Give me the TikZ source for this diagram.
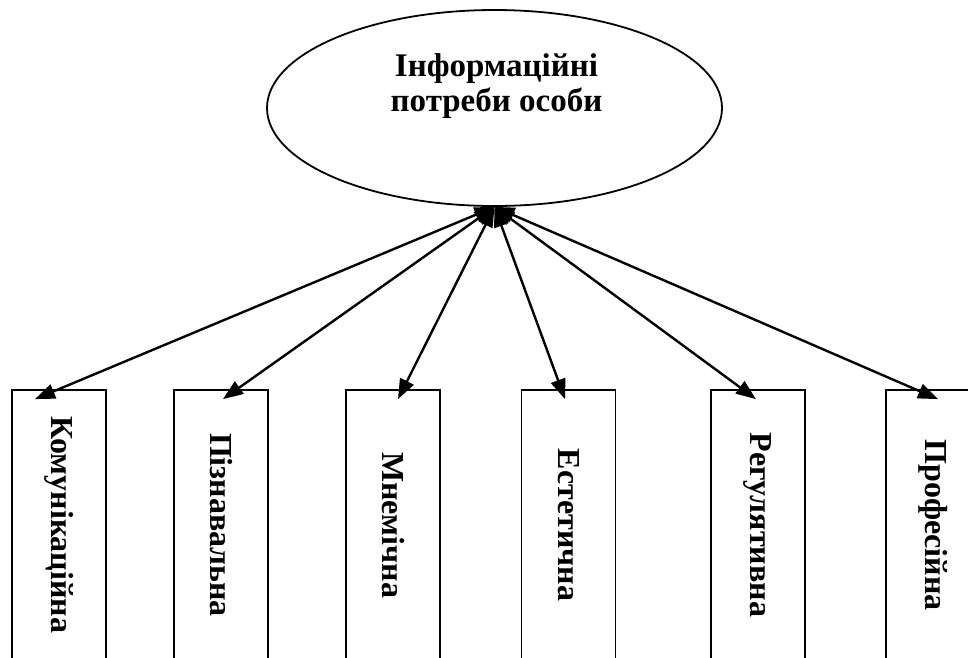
\documentclass[tikz,border=0pt]{standalone}
\usepackage{fontspec}
\setmainfont{Liberation Serif}
\usepackage{tikz}
\usetikzlibrary{shapes}
\usetikzlibrary{arrows.meta,arrows}
\usetikzlibrary{fit,positioning}
\tikzset{>={Triangle[length=20pt,width=15pt]}}
\tikzset{
  bigfont/.style={font=\bfseries\fontsize{33}{35}\selectfont},
  needbox/.style={draw,line width=1.8pt,minimum width=94pt,minimum height=270pt,inner sep=0pt,font=\bfseries\fontsize{32}{36}\selectfont},
  needlink/.style={line width=2.4pt,<->},
}

\begin{document}
\begin{tikzpicture}[x=1pt,y=-1pt]
\useasboundingbox (0,0) rectangle (968,657);

% Ellipse
\node[ellipse,draw,line width=1.8pt,minimum width=455pt,minimum height=196pt,inner sep=0pt] (needs) at (494.5,108) {};
\node[bigfont,align=center] (needstext) at ([xshift=2pt,yshift=22pt]needs.center) {Інформаційні\\потреби особи};

% Boxes
\node[needbox] (komun)  at (59,525)  {\rotatebox{-90}{Комунікаційна}};
\node[needbox] (piznav) at (221,525) {\rotatebox{-90}{Пізнавальна}};
\node[needbox] (mnem)   at (393,525) {\rotatebox{-90}{Мнемічна}};
\node[needbox] (estet)  at (568.5,525) {\rotatebox{-90}{Естетична}};
\node[needbox] (regul)  at (758,525) {\rotatebox{-90}{Регулятивна}};
\node[needbox] (prof)   at (933,525) {\rotatebox{-90}{Професійна}};

% Arrows
\draw[needlink] (needs.south) -- ([xshift=-24pt,yshift=-10pt]komun.north);
\draw[needlink] (needs.south) -- ([xshift=2pt,yshift=-10pt]piznav.north);
\draw[needlink] (needs.south) -- ([xshift=5pt,yshift=-10pt]mnem.north);
\draw[needlink] (needs.south) -- ([xshift=-3.5pt,yshift=-10pt]estet.north);
\draw[needlink] (needs.south) -- ([xshift=-2pt,yshift=-10pt]regul.north);
\draw[needlink] (needs.south) -- ([xshift=5pt,yshift=-10pt]prof.north);

\end{tikzpicture}
\end{document}
